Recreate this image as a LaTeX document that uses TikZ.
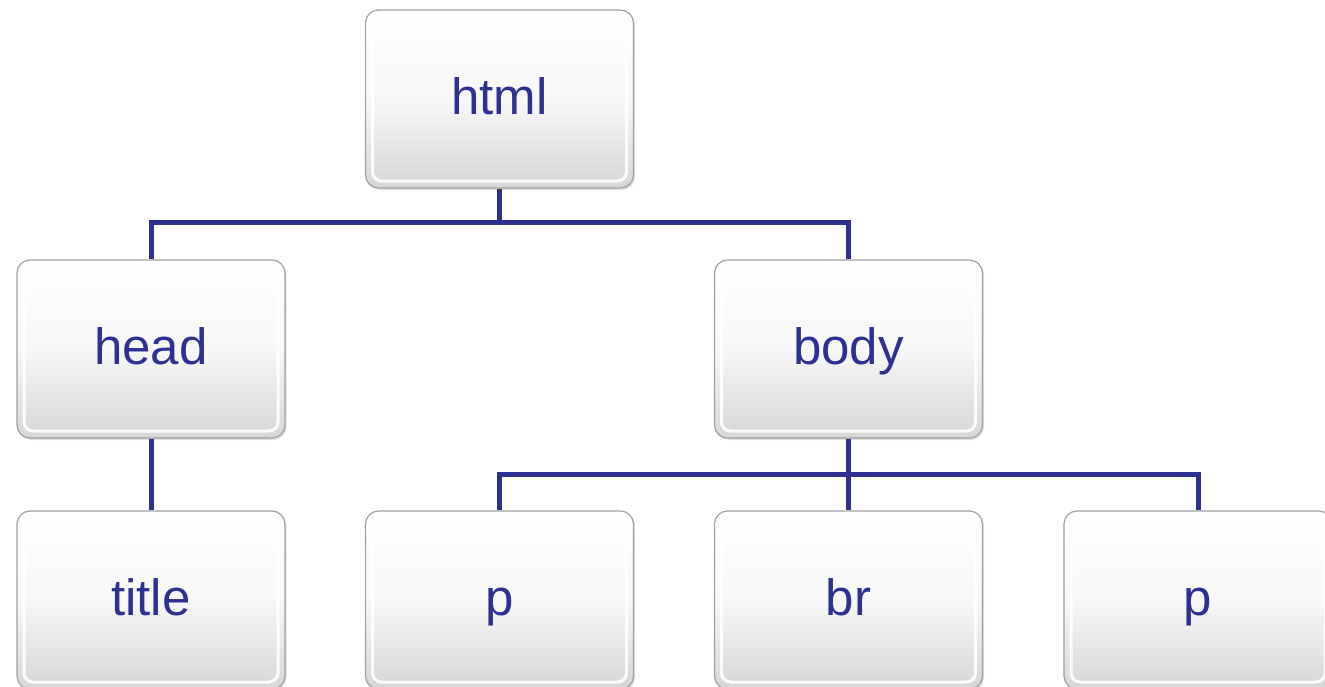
\documentclass[tikz,border=0pt]{standalone}
\usepackage{fontspec}
\setmainfont{Liberation Sans}
\usetikzlibrary{shadows}
\definecolor{navy}{HTML}{2E3192}
\definecolor{boxedge}{HTML}{A0A0A0}
\tikzset{
  treebox/.style={rectangle, rounded corners=13pt, minimum width=268pt, minimum height=178pt,
    draw=boxedge, line width=1.2pt, top color=white, bottom color=black!16,
    middle color=black!3, shading angle=0,
    drop shadow={shadow xshift=1.5pt, shadow yshift=-2pt, opacity=0.25},
    path picture={
      \draw[white, line width=3pt, rounded corners=9pt, opacity=0.9]
        ([xshift=7pt,yshift=-7pt]path picture bounding box.north west) rectangle
        ([xshift=-7pt,yshift=7pt]path picture bounding box.south east);
    },
    text=navy, font=\fontsize{51}{51}\selectfont, text height=37pt, text depth=6pt, inner sep=0pt},
  link/.style={draw=navy, line width=5pt}
}
\begin{document}
\begin{tikzpicture}[x=1pt,y=-1pt]
\useasboundingbox (0,0) rectangle (1325,686);
\clip (0,0) rectangle (1325,686);
\coordinate (j1) at (499.5,222);
\coordinate (j2) at (848.5,474);
\node[treebox] (html) at (499.5,99) {html};
\node[treebox] (head) at (151,349) {head};
\node[treebox] (body) at (848.5,349) {body};
\node[treebox] (title) at (151,600) {title};
\node[treebox] (p1) at (499.5,600) {p};
\node[treebox] (br) at (848.5,600) {br};
\node[treebox] (p2) at (1198,600) {p};
\draw[link] (html.south) -- (j1) -| (head.north);
\draw[link] (j1) -| (body.north);
\draw[link] (head.south) -- (title.north);
\draw[link] (body.south) -- (br.north);
\draw[link] (j2) -| (p1.north);
\draw[link] (j2) -| (p2.north);
\end{tikzpicture}
\end{document}
